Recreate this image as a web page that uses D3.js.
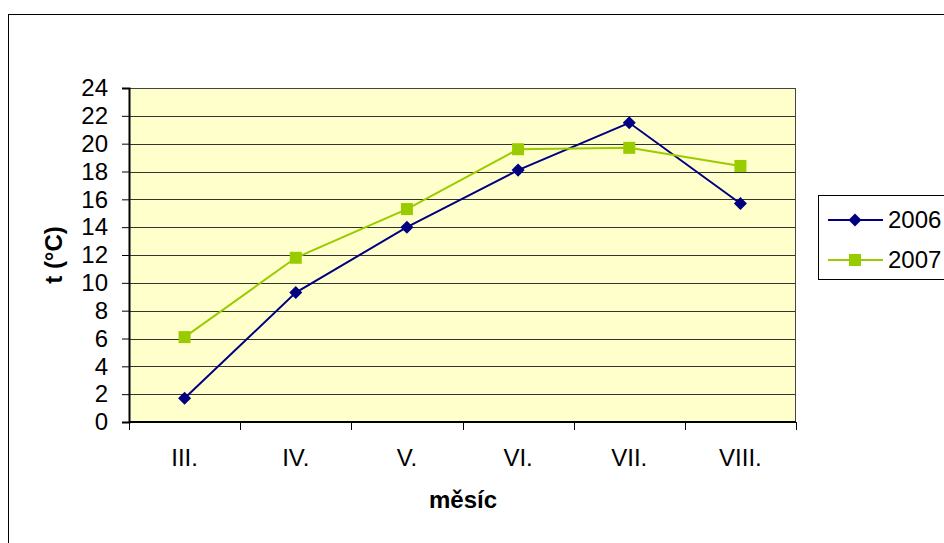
<!DOCTYPE html>
<html>
<head>
<meta charset="utf-8">
<script src="https://cdn.jsdelivr.net/npm/d3@7"></script>
<style>
  html, body { margin: 0; padding: 0; background: #fff; }
  svg { display: block; font-family: "Liberation Sans", Arial, sans-serif; }
</style>
</head>
<body>
<svg id="chart" width="944" height="543"></svg>
<script>
// Monthly mean temperatures
const months = ["III.", "IV.", "V.", "VI.", "VII.", "VIII."];
const temps2006 = [1.7, 9.3, 14.0, 18.1, 21.5, 15.7];
const temps2007 = [6.1, 11.8, 15.3, 19.6, 19.7, 18.4];
const yTicks = [0, 2, 4, 6, 8, 10, 12, 14, 16, 18, 20, 22, 24];
const seriesNames = ["2006", "2007"];
const seriesColors = ["#000080", "#99CC00"];

const FONT = 24;
const svg = d3.select("#chart");

// chart frame
svg.append("rect")
  .attr("x", 8.5).attr("y", 14.5)
  .attr("width", 960).attr("height", 560)
  .attr("fill", "#fff").attr("stroke", "#000").attr("stroke-width", 1);

const plot = { left: 129, top: 88, right: 796, bottom: 422 };

const x = d3.scaleBand().domain(months).range([plot.left, plot.right]).padding(0);
const y = d3.scaleLinear().domain([0, 24]).range([plot.bottom, plot.top]);

// plot background
svg.append("rect")
  .attr("x", plot.left).attr("y", plot.top)
  .attr("width", plot.right - plot.left).attr("height", plot.bottom - plot.top)
  .attr("fill", "#FFFFCC");

// horizontal gridlines
svg.append("g").selectAll("line").data(yTicks.filter(d => d > 0)).join("line")
  .attr("x1", plot.left).attr("x2", plot.right)
  .attr("y1", d => Math.round(y(d)) + 0.5).attr("y2", d => Math.round(y(d)) + 0.5)
  .attr("stroke", "#333").attr("stroke-width", 1);

// plot border
svg.append("rect")
  .attr("x", plot.left + 0.5).attr("y", plot.top + 0.5)
  .attr("width", plot.right - plot.left - 1).attr("height", plot.bottom - plot.top - 1)
  .attr("fill", "none").attr("stroke", "#444").attr("stroke-width", 1);

// y axis
const yAxis = d3.axisLeft(y).tickValues(yTicks).tickSize(7).tickPadding(14);
const gy = svg.append("g").attr("transform", `translate(${plot.left},0)`).call(yAxis);
gy.select(".domain").attr("stroke", "#000").attr("stroke-width", 2);
gy.selectAll(".tick line").attr("stroke", "#000");
gy.selectAll(".tick text")
  .attr("font-size", FONT).attr("fill", "#000")
  .attr("font-family", "Liberation Sans, Arial, sans-serif");

// x axis: ticks at category boundaries
svg.append("line")
  .attr("x1", plot.left).attr("x2", plot.right)
  .attr("y1", plot.bottom).attr("y2", plot.bottom)
  .attr("stroke", "#000").attr("stroke-width", 2);
const bounds = months.map(m => x(m)).concat([plot.right]);
svg.append("g").selectAll("line").data(bounds).join("line")
  .attr("x1", d => Math.round(d) + 0.5).attr("x2", d => Math.round(d) + 0.5)
  .attr("y1", plot.bottom).attr("y2", plot.bottom + 8)
  .attr("stroke", "#000").attr("stroke-width", 1);
svg.append("g").selectAll("text").data(months).join("text")
  .attr("x", d => x(d) + x.bandwidth() / 2)
  .attr("y", 466)
  .attr("text-anchor", "middle")
  .attr("font-size", FONT)
  .text(d => d);

// axis titles
svg.append("text")
  .attr("x", 463).attr("y", 508)
  .attr("text-anchor", "middle")
  .attr("font-size", FONT).attr("font-weight", "bold")
  .text("měsíc");
svg.append("text")
  .attr("transform", `translate(62,${(plot.top + plot.bottom) / 2}) rotate(-90)`)
  .attr("text-anchor", "middle")
  .attr("font-size", FONT).attr("font-weight", "bold")
  .text("t (°C)");

// series
const series = [temps2006, temps2007];
const line = d3.line()
  .x((d, i) => x(months[i]) + x.bandwidth() / 2)
  .y(d => y(d));

const diamond = d3.symbol().type(d3.symbolSquare).size(85);
const square = d3.symbol().type(d3.symbolSquare).size(144);

series.forEach((vals, si) => {
  svg.append("path")
    .datum(vals)
    .attr("d", line)
    .attr("fill", "none")
    .attr("stroke", seriesColors[si])
    .attr("stroke-width", 2);
  svg.append("g").selectAll("path").data(vals).join("path")
    .attr("transform", (d, i) => {
      const cx = x(months[i]) + x.bandwidth() / 2;
      return si === 0 ? `translate(${cx},${y(d)}) rotate(45)` : `translate(${cx},${y(d)})`;
    })
    .attr("d", si === 0 ? diamond : square)
    .attr("fill", seriesColors[si]);
});

// legend
const lg = svg.append("g");
lg.append("rect")
  .attr("x", 818.5).attr("y", 195.5)
  .attr("width", 140).attr("height", 84)
  .attr("fill", "#fff").attr("stroke", "#000").attr("stroke-width", 1);
seriesNames.forEach((name, si) => {
  const ly = 220 + si * 40;
  lg.append("line")
    .attr("x1", 828).attr("x2", 883)
    .attr("y1", ly).attr("y2", ly)
    .attr("stroke", seriesColors[si]).attr("stroke-width", 2);
  lg.append("path")
    .attr("transform", si === 0 ? `translate(855,${ly}) rotate(45)` : `translate(855,${ly})`)
    .attr("d", si === 0 ? diamond : square)
    .attr("fill", seriesColors[si]);
  lg.append("text")
    .attr("x", 888).attr("y", ly + 8)
    .attr("font-size", FONT)
    .text(name);
});
</script>
</body>
</html>
